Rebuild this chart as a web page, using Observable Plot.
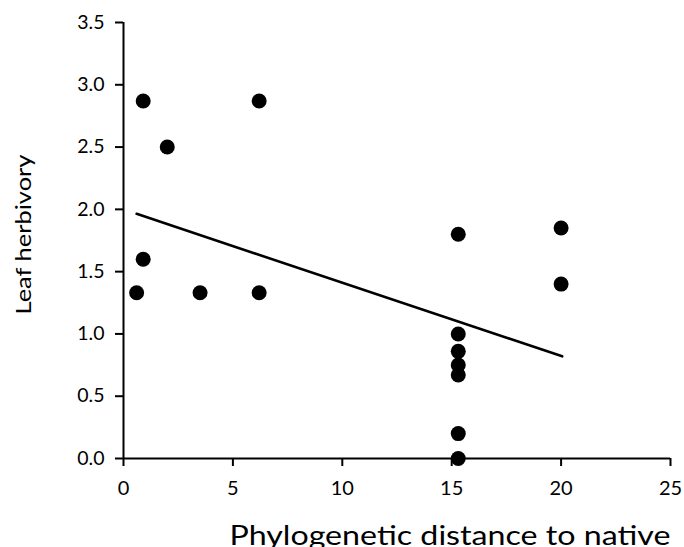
<!DOCTYPE html>
<html>
<head>
<meta charset="utf-8">
<script src="https://cdn.jsdelivr.net/npm/d3@7"></script>
<script src="https://cdn.jsdelivr.net/npm/@observablehq/plot@0.6"></script>
<style>
  html, body { margin: 0; padding: 0; background: #fff; overflow: hidden; }
</style>
</head>
<body>
<div id="chart"></div>
<script>
// Data
const distance  = [0.6, 0.9, 0.9, 2.0, 3.5, 6.2, 6.2, 15.3, 15.3, 15.3, 15.3, 15.3, 15.3, 15.3, 20.0, 20.0];
const herbivory = [1.33, 1.6, 2.87, 2.5, 1.33, 2.87, 1.33, 1.8, 1.0, 0.86, 0.75, 0.67, 0.2, 0.0, 1.85, 1.4];
// Fitted trend line (endpoints)
const fitX = [0.6, 20.05];
const fitY = [1.964, 0.82];
// Tick labels
const xTicks = [0, 5, 10, 15, 20, 25];
const yTicks = [0, 0.5, 1.0, 1.5, 2.0, 2.5, 3.0, 3.5];
const xTitle = "Phylogenetic distance to native";
const yTitle = "Leaf herbivory";

const points = distance.map((d, i) => ({distance: d, herbivory: herbivory[i]}));
const fit = fitX.map((d, i) => ({x: d, y: fitY[i]}));
const fmtX = d3.format("d");
const fmtY = d3.format(".1f");

const chart = Plot.plot({
  width: 684,
  height: 547,
  marginTop: 22,
  marginBottom: 89,
  marginLeft: 123,
  marginRight: 14,
  style: {fontFamily: "Lato, 'Open Sans', sans-serif", fontSize: "19px", color: "black", background: "white"},
  x: {domain: [0, 25], axis: null},
  y: {domain: [0, 3.5], axis: null},
  marks: [
    Plot.axisX(xTicks, {tickSize: 8, tickPadding: 14, strokeWidth: 2, tickFormat: fmtX, fontSize: 20, label: null}),
    Plot.axisY(yTicks, {tickSize: 8, tickPadding: 11, strokeWidth: 2, tickFormat: fmtY, fontSize: 19.5, label: null}),
    Plot.ruleX([0], {strokeWidth: 2}),
    Plot.ruleY([0], {strokeWidth: 2}),
    Plot.line(fit, {x: "x", y: "y", stroke: "black", strokeWidth: 2.6}),
    Plot.dot(points, {x: "distance", y: "herbivory", r: 7.5, fill: "black", stroke: "none"}),
    Plot.text([xTitle], {frameAnchor: "bottom-left", text: d => d, textAnchor: "start", dx: 106, dy: 78, fontSize: 26, lineAnchor: "middle", fill: "black"}),
    Plot.text([yTitle], {frameAnchor: "bottom-left", text: d => d, textAnchor: "start", rotate: -90, dx: -99, dy: -144, fontSize: 21, lineAnchor: "middle", fill: "black"})
  ]
});

// Stretch the axis titles along their reading direction to match the reference lengths
chart.querySelectorAll("text").forEach(t => {
  const s = t.textContent.trim();
  if (s === xTitle) { t.setAttribute("textLength", 441); t.setAttribute("lengthAdjust", "spacingAndGlyphs"); }
  if (s === yTitle) { t.setAttribute("textLength", 160); t.setAttribute("lengthAdjust", "spacingAndGlyphs"); }
});

document.getElementById("chart").appendChild(chart);
</script>
</body>
</html>
